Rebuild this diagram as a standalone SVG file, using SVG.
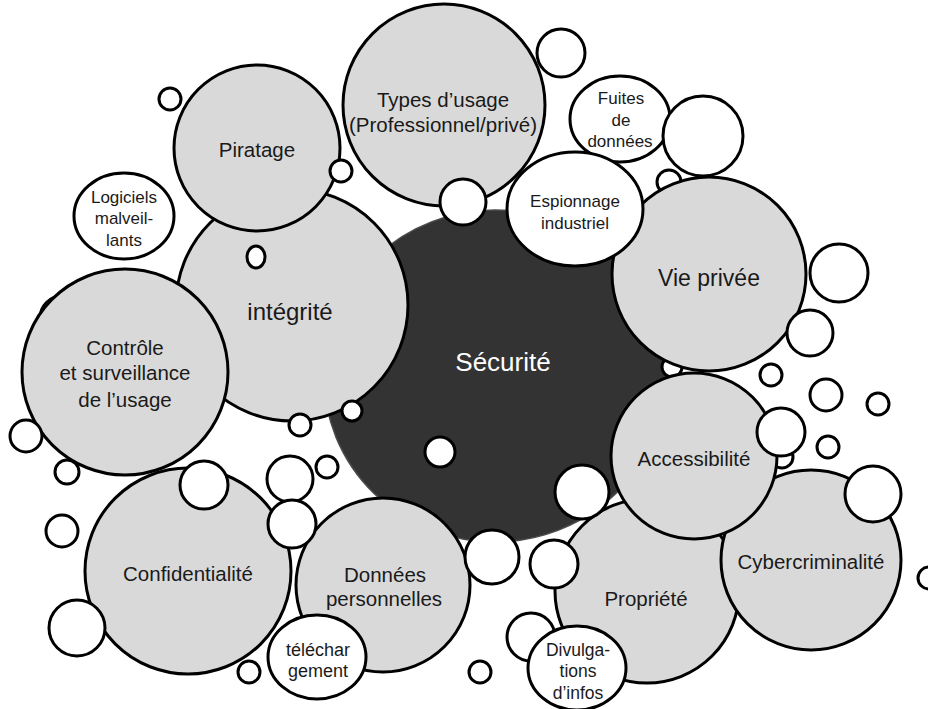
<svg xmlns="http://www.w3.org/2000/svg" width="928" height="709" viewBox="0 0 928 709">
<style>
.g{fill:#d9d9d9;stroke:#000;stroke-width:3}
.w{fill:#fff;stroke:#000;stroke-width:3}
.t{font-family:"Liberation Sans",Arial,sans-serif;font-size:20.5px;fill:#1a1a1a;text-anchor:middle}
.s{font-family:"Liberation Sans",Arial,sans-serif;font-size:17px;fill:#1a1a1a;text-anchor:middle}
</style>
<rect width="928" height="709" fill="#fff"/>
<g id="securite">
<ellipse cx="495" cy="376" rx="171" ry="166" fill="#333" stroke="#4a4a4a" stroke-width="1.5"/>
<text class="t" x="503" y="371" style="font-size:26px;fill:#fff">Sécurité</text>
</g>
<g id="hidden-bubbles">
<circle class="w" cx="62" cy="318" r="22"/>
<circle class="w" cx="669" cy="182" r="12"/>
<circle class="w" cx="672" cy="367" r="10"/>
<circle class="w" cx="782" cy="457" r="11"/>
<circle class="w" cx="721" cy="539" r="6"/>
</g>
<g id="integrite">
<circle class="g" cx="292" cy="305" r="116"/>
<text class="t" x="290" y="320" style="font-size:24px">intégrité</text>
</g>
<g id="piratage">
<circle class="g" cx="257" cy="148" r="83"/>
<text class="t" x="257" y="157">Piratage</text>
</g>
<g id="controle">
<circle class="g" cx="125" cy="372" r="103"/>
<text class="t" x="125" y="355">Contrôle</text>
<text class="t" x="125" y="380">et surveillance</text>
<text class="t" x="125" y="407">de l’usage</text>
</g>
<g id="types-usage">
<circle class="g" cx="444" cy="105" r="101"/>
<text class="t" x="443" y="107">Types d’usage</text>
<text class="t" x="443" y="132">(Professionnel/privé)</text>
</g>
<g id="vie-privee">
<circle class="g" cx="709" cy="274" r="97"/>
<text class="t" x="709" y="286" style="font-size:23px">Vie privée</text>
</g>
<g id="fuites">
<ellipse class="w" cx="620" cy="119" rx="50" ry="43"/>
<text class="s" x="621" y="104">Fuites</text>
<text class="s" x="621" y="126">de</text>
<text class="s" x="620" y="147">données</text>
</g>
<g id="espionnage">
<ellipse class="w" cx="575" cy="209" rx="68" ry="57"/>
<text class="s" x="575" y="207">Espionnage</text>
<text class="s" x="575" y="229">industriel</text>
</g>
<g id="logiciels">
<ellipse class="w" cx="124" cy="216" rx="50" ry="43"/>
<text class="s" x="124" y="203">Logiciels</text>
<text class="s" x="124" y="224">malveil-</text>
<text class="s" x="124" y="246">lants</text>
</g>
<g id="confidentialite">
<circle class="g" cx="188" cy="571" r="103"/>
<text class="t" x="188" y="581">Confidentialité</text>
</g>
<g id="donnees">
<circle class="g" cx="383" cy="585" r="87"/>
<text class="t" x="385" y="582">Données</text>
<text class="t" x="384" y="606">personnelles</text>
</g>
<g id="propriete">
<circle class="g" cx="647" cy="591" r="92"/>
<text class="t" x="646" y="606">Propriété</text>
</g>
<g id="cybercriminalite">
<circle class="g" cx="811" cy="560" r="90"/>
<text class="t" x="811" y="569">Cybercriminalité</text>
</g>
<g id="accessibilite">
<circle class="g" cx="694" cy="456" r="83"/>
<text class="t" x="694" y="466">Accessibilité</text>
</g>
<g id="small-bubbles-under">
<circle class="w" cx="531" cy="637" r="24"/>
</g>
<g id="telechargement">
<ellipse class="w" cx="317" cy="657" rx="49" ry="42"/>
<text class="s" x="318" y="656" style="font-size:18px">téléchar</text>
<text class="s" x="318" y="677" style="font-size:18px">gement</text>
</g>
<g id="divulgations">
<ellipse class="w" cx="577" cy="668" rx="49" ry="42"/>
<text class="s" x="578" y="656" style="font-size:17.5px">Divulga-</text>
<text class="s" x="578" y="677" style="font-size:17.5px">tions</text>
<text class="s" x="578" y="699" style="font-size:17.5px">d’infos</text>
</g>
<g id="bubbles">
<circle class="w" cx="170" cy="99" r="11"/>
<circle class="w" cx="341" cy="171" r="11"/>
<ellipse class="w" cx="256" cy="257" rx="9" ry="11"/>
<circle class="w" cx="463" cy="202" r="23"/>
<circle class="w" cx="561" cy="53" r="24"/>
<circle class="w" cx="703" cy="136" r="40"/>
<circle class="w" cx="839" cy="273" r="29"/>
<circle class="w" cx="810" cy="333" r="23"/>
<circle class="w" cx="771" cy="375" r="11"/>
<circle class="w" cx="826" cy="395" r="16"/>
<circle class="w" cx="878" cy="404" r="11"/>
<circle class="w" cx="828" cy="447" r="11"/>
<circle class="w" cx="781" cy="432" r="24"/>
<circle class="w" cx="873" cy="494" r="28"/>
<circle class="w" cx="929" cy="578" r="11"/>
<circle class="w" cx="582" cy="492" r="27"/>
<circle class="w" cx="440" cy="452" r="15"/>
<circle class="w" cx="352" cy="411" r="10"/>
<circle class="w" cx="300" cy="425" r="11"/>
<circle class="w" cx="327" cy="467" r="11"/>
<circle class="w" cx="290" cy="479" r="23"/>
<circle class="w" cx="292" cy="524" r="24"/>
<circle class="w" cx="204" cy="485" r="24"/>
<circle class="w" cx="492" cy="557" r="27"/>
<circle class="w" cx="554" cy="564" r="24"/>
<circle class="w" cx="26" cy="436" r="16"/>
<circle class="w" cx="67" cy="472" r="12"/>
<circle class="w" cx="62" cy="531" r="16"/>
<circle class="w" cx="77" cy="628" r="28"/>
<circle class="w" cx="249" cy="672" r="11"/>
<circle class="w" cx="480" cy="672" r="11"/>
</g>
</svg>
